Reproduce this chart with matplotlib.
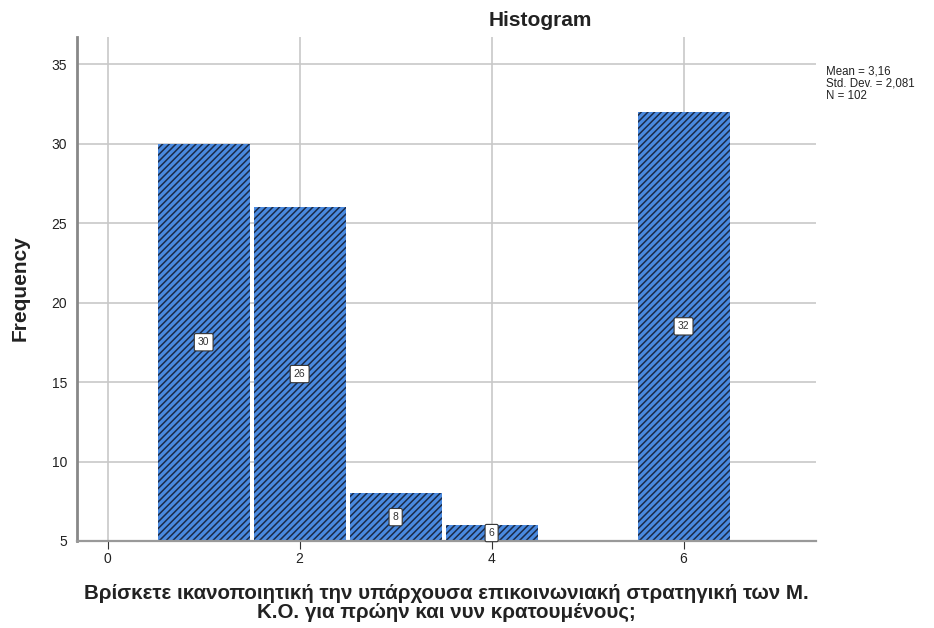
import matplotlib
matplotlib.use("Agg")
import matplotlib.pyplot as plt

plt.rcParams['font.family'] = ['Liberation Sans', 'DejaVu Sans']
plt.rcParams['hatch.linewidth'] = 1.1

bin_centers = [1, 2, 3, 4, 6]
frequencies = [30, 26, 8, 6, 32]
xticks = [0, 2, 4, 6]
yticks = [5, 10, 15, 20, 25, 30, 35]
stats_text = "Mean = 3,16\nStd. Dev. = 2,081\nN = 102"
title = "Histogram"
xlabel = "Βρίσκετε ικανοποιητική την υπάρχουσα επικοινωνιακή στρατηγική των Μ.\nΚ.Ο. για πρώην και νυν κρατουμένους;"
ylabel = "Frequency"

fig = plt.figure(figsize=(9.34, 6.28), dpi=100)
ax = fig.add_axes([77/934, 1-541/628, (816-77)/934, (541-37)/628])

ymin = 5
ax.set_xlim(-0.32, 7.38)
ax.set_ylim(ymin, 36.7)

ax.set_axisbelow(True)
ax.grid(True, color='#c8c8c8', linewidth=1.2)

heights = [f - ymin for f in frequencies]
ax.bar(bin_centers, heights, width=0.958, bottom=ymin, color='#4a8ae0',
       edgecolor='#1b2b48', linewidth=0, hatch='/////', zorder=2)

for x, f in zip(bin_centers, frequencies):
    ax.text(x, (f + ymin) / 2, str(f), ha='center', va='center', fontsize=7.5,
            color='#333333', zorder=5,
            bbox=dict(boxstyle='round,pad=0.35,rounding_size=0.15', fc='white',
                      ec='#333333', lw=0.8))

ax.set_xticks(xticks)
ax.set_yticks(yticks)
ax.tick_params(axis='both', labelsize=10, colors='#222222', length=0, pad=7)
ax.tick_params(axis='x', length=6, color='#333333', direction='out', pad=2)

for s in ['top', 'right']:
    ax.spines[s].set_visible(False)
ax.spines['left'].set_color('#888888')
ax.spines['left'].set_linewidth(2)
ax.spines['bottom'].set_color('#999999')
ax.spines['bottom'].set_linewidth(1.6)

fig.text(540/934, 1-21/628, title, ha='center', va='center', fontsize=15,
         fontweight='bold', color='#222222')
fig.text(20/934, 1-288/628, ylabel, ha='center', va='center', rotation=90,
         fontsize=15, fontweight='bold', color='#222222')
fig.text(446/934, 1-603/628, xlabel, ha='center', va='center', fontsize=14.8,
         fontweight='bold', color='#222222', linespacing=1.0)
fig.text(826/934, 1-66/628, stats_text, ha='left', va='top', fontsize=8.3,
         color='#222222', linespacing=1.0)

fig.savefig("out.png", dpi=100)
